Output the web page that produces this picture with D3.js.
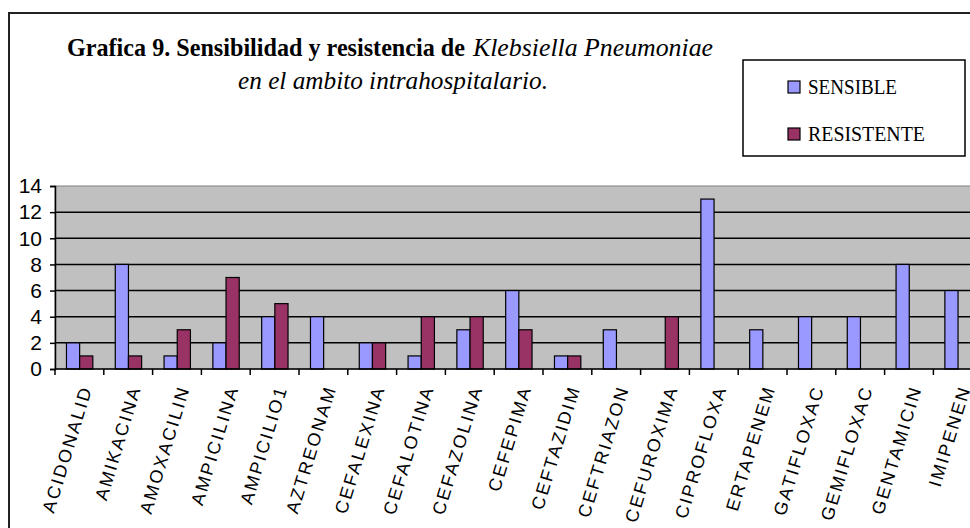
<!DOCTYPE html>
<html>
<head>
<meta charset="utf-8">
<title>Grafica 9</title>
<script src="https://d3js.org/d3.v7.min.js"></script>
<style>
  body { margin: 0; background: #fff; }
  svg { display: block; }
</style>
</head>
<body>
<script>
// data
var categories = ['ACIDONALID', 'AMIKACINA', 'AMOXACILIN', 'AMPICILINA', 'AMPICILIO1', 'AZTREONAM',
  'CEFALEXINA', 'CEFALOTINA', 'CEFAZOLINA', 'CEFEPIMA', 'CEFTAZIDIM', 'CEFTRIAZON', 'CEFUROXIMA',
  'CIPROFLOXA', 'ERTAPENEM', 'GATIFLOXAC', 'GEMIFLOXAC', 'GENTAMICIN', 'IMIPENEN'];
var sensible   = [2, 8, 1, 2, 4, 4, 2, 1, 3, 6, 1, 3, 0, 13, 3, 4, 4, 8, 6];
var resistente = [1, 1, 3, 7, 5, 0, 2, 4, 4, 3, 1, 0, 4, 0, 0, 0, 0, 0, 0];
var seriesNames = ['SENSIBLE', 'RESISTENTE'];
var seriesColors = ['#9999ff', '#993366'];
var yTicks = [0, 2, 4, 6, 8, 10, 12, 14];

var W = 970, H = 528;
var plotLeft = 55, plotTop = 186, plotBottom = 369, band = 48.8;

var svg = d3.select('body').append('svg')
  .attr('width', W).attr('height', H);

// outer chart border (only top and left are visible)
svg.append('path')
  .attr('d', 'M9,' + H + 'V13H' + W)
  .attr('fill', 'none').attr('stroke', '#222').attr('stroke-width', 2);

// scales
var x0 = d3.scaleBand().domain(categories).range([plotLeft, plotLeft + categories.length * band]);
var x1 = d3.scaleBand().domain(seriesNames).range([x0.bandwidth() * 0.235, x0.bandwidth() * 0.775]);
var y = d3.scaleLinear().domain([0, 14]).range([plotBottom, plotTop]);

// plot area
svg.append('rect')
  .attr('x', plotLeft).attr('y', y(14))
  .attr('width', x0.range()[1] - plotLeft).attr('height', y(0) - y(14))
  .attr('fill', '#c0c0c0').attr('stroke', '#808080').attr('stroke-width', 1);

// gridlines
svg.append('g').selectAll('line')
  .data(yTicks.filter(function(d) { return d > 0 && d < 14; }))
  .enter().append('line')
  .attr('x1', plotLeft).attr('x2', W)
  .attr('y1', function(d) { return y(d); }).attr('y2', function(d) { return y(d); })
  .attr('stroke', '#000').attr('stroke-width', 1.5);

// bars
var rows = categories.map(function(c, i) {
  return { cat: c, vals: [sensible[i], resistente[i]] };
});
var groups = svg.append('g').selectAll('g')
  .data(rows).enter().append('g')
  .attr('transform', function(d) { return 'translate(' + x0(d.cat) + ',0)'; });
groups.selectAll('rect')
  .data(function(d) { return d.vals.map(function(v, k) { return { s: seriesNames[k], v: v, k: k }; }); })
  .enter().filter(function(d) { return d.v > 0; })
  .append('rect')
  .attr('x', function(d) { return x1(d.s); })
  .attr('y', function(d) { return y(d.v); })
  .attr('width', x1.bandwidth())
  .attr('height', function(d) { return y(0) - y(d.v); })
  .attr('fill', function(d) { return seriesColors[d.k]; })
  .attr('stroke', '#000').attr('stroke-width', 1.2);

// y axis
var yAxis = d3.axisLeft(y).tickValues(yTicks).tickSize(5).tickPadding(8);
var gy = svg.append('g').attr('transform', 'translate(' + plotLeft + ',0)').call(yAxis);
gy.select('.domain').attr('stroke', '#000').attr('stroke-width', 1.5);
gy.selectAll('.tick line').attr('stroke', '#000').attr('stroke-width', 1.5);
gy.selectAll('.tick text')
  .attr('font-family', 'Liberation Sans, Arial, sans-serif')
  .attr('font-size', 21).attr('fill', '#000');

// x axis baseline + ticks between categories
svg.append('line')
  .attr('x1', plotLeft).attr('x2', W)
  .attr('y1', y(0)).attr('y2', y(0))
  .attr('stroke', '#000').attr('stroke-width', 1.5);
svg.append('g').selectAll('line')
  .data(d3.range(categories.length + 1))
  .enter().append('line')
  .attr('x1', function(i) { return plotLeft + i * x0.bandwidth(); })
  .attr('x2', function(i) { return plotLeft + i * x0.bandwidth(); })
  .attr('y1', y(0)).attr('y2', y(0) + 6)
  .attr('stroke', '#000').attr('stroke-width', 1.5);

// category labels, rotated
svg.append('g').selectAll('text')
  .data(categories).enter().append('text')
  .attr('transform', function(d) {
    return 'translate(' + (x0(d) + x0.bandwidth() / 2 + 7) + ',' + (y(0) + 17) + ') rotate(-73)';
  })
  .attr('text-anchor', 'end')
  .attr('dy', '0.35em')
  .attr('font-family', 'Liberation Sans, Arial, sans-serif')
  .attr('font-size', 18)
  .attr('letter-spacing', 2.2)
  .attr('fill', '#000')
  .text(function(d) { return d; });

// title
var serif = 'Liberation Serif, Times New Roman, serif';
svg.append('text')
  .attr('x', 67).attr('y', 56)
  .attr('font-family', serif).attr('font-weight', 'bold').attr('font-size', 25)
  .attr('textLength', 398).attr('lengthAdjust', 'spacingAndGlyphs')
  .text('Grafica 9. Sensibilidad y resistencia de');
svg.append('text')
  .attr('x', 473).attr('y', 56)
  .attr('font-family', serif).attr('font-style', 'italic').attr('font-size', 25)
  .attr('textLength', 240).attr('lengthAdjust', 'spacingAndGlyphs')
  .text('Klebsiella Pneumoniae');
svg.append('text')
  .attr('x', 238).attr('y', 89)
  .attr('font-family', serif).attr('font-style', 'italic').attr('font-size', 25)
  .attr('textLength', 310).attr('lengthAdjust', 'spacingAndGlyphs')
  .text('en el ambito intrahospitalario.');

// legend
var legend = svg.append('g');
legend.append('rect')
  .attr('x', 743).attr('y', 60).attr('width', 222).attr('height', 96)
  .attr('fill', '#fff').attr('stroke', '#000').attr('stroke-width', 1.5);
var legendWidths = [89, 117];
var items = legend.selectAll('g.item')
  .data(seriesNames).enter().append('g')
  .attr('class', 'item')
  .attr('transform', function(d, i) { return 'translate(788,' + (81 + i * 47) + ')'; });
items.append('rect')
  .attr('width', 12).attr('height', 12)
  .attr('fill', function(d, i) { return seriesColors[i]; })
  .attr('stroke', '#000').attr('stroke-width', 1.2);
items.append('text')
  .attr('x', 20).attr('y', 13)
  .attr('font-family', serif).attr('font-size', 22)
  .attr('textLength', function(d, i) { return legendWidths[i]; })
  .attr('lengthAdjust', 'spacingAndGlyphs')
  .text(function(d) { return d; });
</script>
</body>
</html>
